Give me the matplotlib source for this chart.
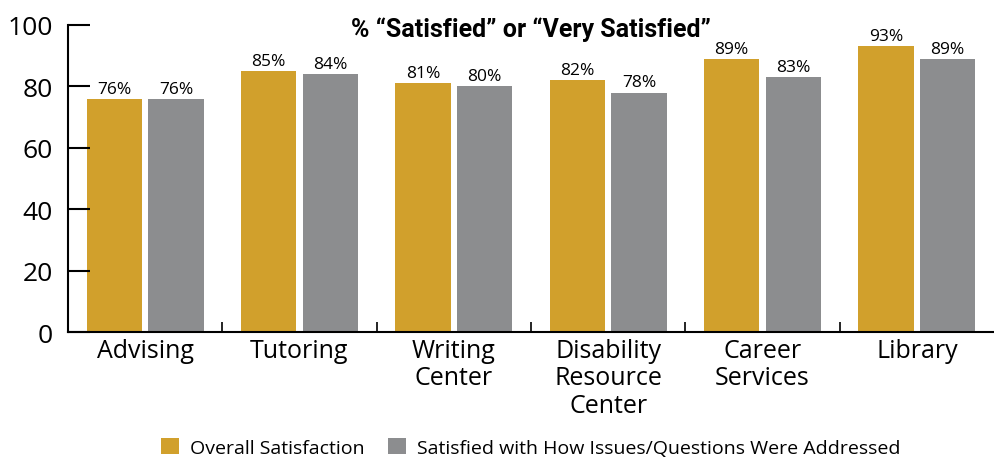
import matplotlib
matplotlib.use('Agg')
import matplotlib.pyplot as plt
import numpy as np

categories = ['Advising', 'Tutoring', 'Writing\nCenter', 'Disability\nResource\nCenter',
              'Career\nServices', 'Library']
overall = [76, 85, 81, 82, 89, 93]
addressed = [76, 84, 80, 78, 83, 89]
series_names = ['Overall Satisfaction', 'Satisfied with How Issues/Questions Were Addressed']

ORANGE = '#D1A02C'
GRAY = '#8C8D8F'
FONT = 'Open Sans'


def main():
    fig = plt.figure(figsize=(9.94, 4.6), dpi=100)
    ax = fig.add_axes([0.0684, 0.276, 0.9316, 0.6675])

    x = np.arange(len(categories))
    w = 0.36
    b1 = ax.bar(x - 0.2, overall, w, color=ORANGE, label=series_names[0])
    b2 = ax.bar(x + 0.2, addressed, w, color=GRAY, label=series_names[1])

    for bars in (b1, b2):
        for rect in bars:
            h = rect.get_height()
            ax.annotate('%d%%' % h, (rect.get_x() + rect.get_width() / 2, h),
                        xytext=(0, 1.5), textcoords='offset points',
                        ha='center', va='bottom', fontsize=12.5, family=FONT)

    ax.set_xlim(-0.5, 5.5)
    ax.set_ylim(0, 100)
    ax.set_yticks([0, 20, 40, 60, 80, 100])
    ax.tick_params(axis='y', direction='in', length=16, width=1.5,
                   labelsize=19, pad=11)
    for lbl in ax.get_yticklabels():
        lbl.set_family(FONT)

    ax.set_xticks(x)
    ax.set_xticklabels(categories, fontsize=18, family=FONT, linespacing=1.15)
    ax.tick_params(axis='x', length=0, pad=4)
    ax.set_xticks(x[:-1] + 0.5, minor=True)
    ax.tick_params(axis='x', which='minor', direction='in', length=7, width=1.2)

    for side in ('top', 'right'):
        ax.spines[side].set_visible(False)
    for side in ('left', 'bottom'):
        ax.spines[side].set_linewidth(1.5)

    ax.set_title('% \u201cSatisfied\u201d or \u201cVery Satisfied\u201d', family='Roboto',
                 fontweight='bold', fontsize=18, x=0.5, y=1.0, pad=-8)

    ax.legend(loc='center', bbox_to_anchor=(0.5, -0.375), ncol=2, frameon=False,
              prop={'family': FONT, 'size': 14}, handlelength=0.9, handleheight=0.9,
              handletextpad=0.6, columnspacing=1.2, borderpad=0)

    fig.savefig('out.png', dpi=100)


if __name__ == '__main__':
    main()
